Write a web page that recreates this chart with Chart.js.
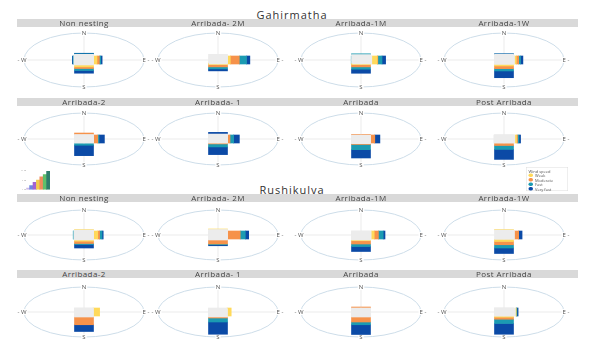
<!DOCTYPE html>
<html lang="en">
<head>
<meta charset="UTF-8" />
<title>Wind speed roses</title>
<script src="https://cdn.jsdelivr.net/npm/chart.js@4.4.1/dist/chart.umd.min.js"></script>
<style>
  body { margin: 0; background: #fff; font-family: "Open Sans", sans-serif; }
  #page { position: relative; width: 601px; height: 358px; overflow: hidden; background: #fff; }
  .group { position: absolute; left: 0; width: 584px; text-align: center; font-size: 11px; line-height: 12px; letter-spacing: 1px; color: #333; }
  .strip { position: absolute; left: 17px; width: 561px; height: 8px; background: #d9d9d9; }
  .ptitle { position: absolute; width: 140px; margin-left: -70px; text-align: center; font-size: 8px; line-height: 8px; letter-spacing: 0.4px; color: #444; }
  canvas { position: absolute; }
  #legend { position: absolute; left: 526px; top: 167px; width: 84px; height: 48px; border: 1px solid #ddd;
            transform: scale(0.5); transform-origin: 0 0; font-size: 8px; line-height: 9px; color: #555; padding: 2px 4px; box-sizing: border-box; }
  #legend .it { display: flex; align-items: center; }
  #legend .dot { width: 9px; height: 7px; border-radius: 4px; margin-right: 4px; }
</style>
</head>
<body>
<div id="page"></div>
<script>
// ---- data ----
const groups = ["Gahirmatha", "Rushikulya"];
const titles = ["Non nesting", "Arribada- 2M", "Arribada-1M", "Arribada-1W",
                "Arribada-2", "Arribada- 1", "Arribada", "Post Arribada",
                "Non nesting", "Arribada- 2M", "Arribada-1M", "Arribada-1W",
                "Arribada-2", "Arribada- 1", "Arribada", "Post Arribada"];
const directions = ["N", "E", "S", "W"];
const speedClasses = ["Calm", "Weak", "Moderate", "Fast", "Very fast"];

// share of each speed class per panel, as [N, E, S, W]
const calm = [[21,16,18.5,17],[21,16,10,15],[20,18,12,14],[21,17.5,16,16],
              [17,16,15,16],[19,16,15,16],[13,16,18,16],[17,18,15,17],
              [20,16,20,17],[22,16,20,16],[16,17,20,16],[20,17.5,17,15],
              [16,15,20,16],[13,15,20,16],[13,16,20,16],[17,19,16,16]];
const weak = [[0,5.6,7,0],[0,4.5,7,0],[0,9,5,0],[0,3,6,0],
              [0,0,0,0],[0,0,0,0],[0,0,0,0],[0,2.8,0,0],
              [2,7,5,0],[2,0,0,0],[0,5,3,0],[2,0,9,0],
              [0,11,0,0],[0,7,0,0],[0,0,0,0],[0,1.5,5,0]];
const moderate = [[0,4,6,0],[0,15,8.5,0],[0,1,8.5,0],[0,4,10,0],
                  [6,7,0,0],[0,4,4,0],[5,7,3,0],[0,1.7,10,0],
                  [0,3,9,0],[0,21,16,0],[0,7,13,0],[0,7,13,0],
                  [0,0,31,0],[0,0,4,0],[7,0,20,0],[0,0,8,0]];
const fast = [[2,2.3,7.4,1.2],[0,12,7.4,0],[3,7,8.6,2.3],[1,3,8.6,0],
              [0,2,9,0],[0,6,11.5,0],[0,0,20,0],[0,2.3,15,0],
              [0,4,4,1],[0,8.5,3,0],[0,8,10,0],[0,0,13,0],
              [0,0,0,0],[0,0,16,0],[0,0,11,0],[0,1,17,0]];
const veryFast = [[2,2.3,10,1.2],[0,5.6,7.4,0],[0,6,15,0],[1,4,25,0],
                  [0,9,40,0],[6.5,9.6,29.5,0],[0,8.5,32,0],[0,2.8,38.5,0],
                  [0,2,14,0],[0,5.6,4,0],[0,3,20,0],[0,5.6,22,0],
                  [0,0,27,0],[0,0,49,0],[0,0,39,0],[0,2,43,0]];

// small colour-scale inset
const insetValues = [1.5, 3.5, 6, 8, 10.5, 12.5, 15];

// ---- layout ----
const colors = ["#ececec", "#ffd95a", "#f6924a", "#1b9bb2", "#0b4aa6"];
const insetColors = ["#cbb8e8", "#6f88e0", "#a363d2", "#f2cc4c", "#f08a5d", "#5fbf6a", "#2e7d6b"];
const colCx = [84, 218, 361, 504];
const rowCy = [60, 139, 235, 312];
const rowHh = [27, 26, 25, 25];
const stripTop = [19, 98, 194, 270];
const groupTop = [9, 184];

const page = document.getElementById("page");

function addDiv(cls, text, css) {
  const d = document.createElement("div");
  d.className = cls;
  if (text) d.textContent = text;
  Object.assign(d.style, css);
  page.appendChild(d);
  return d;
}

groups.forEach((g, i) => addDiv("group", g, { top: groupTop[i] + "px" }));
stripTop.forEach((t) => addDiv("strip", "", { top: t + "px" }));

const roseFrame = {
  id: "roseFrame",
  beforeDatasetsDraw(chart) {
    const { ctx, scales: { x, y } } = chart;
    const cx = x.getPixelForValue(0), cy = y.getPixelForValue(0);
    const rx = x.getPixelForValue(100) - cx, ry = cy - y.getPixelForValue(100);
    ctx.save();
    ctx.lineWidth = 1;
    ctx.strokeStyle = "#ebebeb";
    ctx.beginPath();
    ctx.moveTo(cx - rx, cy); ctx.lineTo(cx + rx, cy);
    ctx.moveTo(cx, cy - ry); ctx.lineTo(cx, cy + ry);
    ctx.stroke();
    ctx.strokeStyle = "#cddde9";
    ctx.beginPath();
    ctx.ellipse(cx, cy, rx, ry, 0, 0, Math.PI * 2);
    ctx.stroke();
    ctx.font = "6px 'Open Sans'";
    ctx.textAlign = "center";
    ctx.textBaseline = "middle";
    const lab = [["N", cx, cy - ry], ["E -", cx + rx + 2, cy], ["S", cx, cy + ry], ["- W", cx - rx - 2, cy]];
    lab.forEach(([t, px, py]) => {
      const w = ctx.measureText(t).width;
      ctx.fillStyle = "#fff";
      ctx.fillRect(px - w / 2 - 1, py - 3, w + 2, 6);
      ctx.fillStyle = "#555";
      ctx.fillText(t, px, py);
    });
    ctx.restore();
  }
};

function makeRose(idx) {
  const row = Math.floor(idx / 4), col = idx % 4;
  const hh = rowHh[row];
  const canvas = document.createElement("canvas");
  canvas.width = 150;
  canvas.height = 2 * hh + 14;
  canvas.style.left = (colCx[col] - 75) + "px";
  canvas.style.top = (rowCy[row] - hh - 7) + "px";
  page.appendChild(canvas);
  addDiv("ptitle", titles[idx], { left: colCx[col] + "px", top: stripTop[row] + "px" });

  const classes = [calm, weak, moderate, fast, veryFast];
  const sums = [0, 0, 0, 0];
  const datasets = [];
  classes.forEach((cls, c) => {
    const v = cls[idx];
    const s = sums.slice();
    for (let d = 0; d < 4; d++) sums[d] += v[d];
    const vert = [], hor = [];
    if (v[0] > 0) vert.push({ x: 0, y: [s[0], sums[0]] });
    if (v[2] > 0) vert.push({ x: 0, y: [-s[2], -sums[2]] });
    if (v[1] > 0) hor.push({ y: 0, x: [s[1], sums[1]] });
    if (v[3] > 0) hor.push({ y: 0, x: [-s[3], -sums[3]] });
    datasets.push({ label: speedClasses[c], indexAxis: "x", data: vert, backgroundColor: colors[c],
                    barThickness: 19, grouped: false, borderWidth: 0 });
    datasets.push({ label: speedClasses[c], indexAxis: "y", data: hor, backgroundColor: colors[c],
                    barThickness: 8, grouped: false, borderWidth: 0 });
  });

  new Chart(canvas, {
    type: "bar",
    data: { datasets },
    options: {
      responsive: false,
      animation: false,
      layout: { padding: { left: 15, right: 15, top: 7, bottom: 7 } },
      scales: {
        x: { type: "linear", min: -100, max: 100, offset: false, display: false },
        y: { type: "linear", min: -100, max: 100, offset: false, display: false }
      },
      plugins: { legend: { display: false }, tooltip: { enabled: false } }
    },
    plugins: [roseFrame]
  });
}

for (let i = 0; i < titles.length; i++) makeRose(i);

// legend
const lg = addDiv("", "", {});
lg.id = "legend";
const lt = document.createElement("div");
lt.textContent = "Wind speed";
lg.appendChild(lt);
speedClasses.slice(1).forEach((name, i) => {
  const it = document.createElement("div");
  it.className = "it";
  it.innerHTML = '<span class="dot" style="background:' + colors[i + 1] + '"></span>' + name;
  lg.appendChild(it);
});

// inset colour-scale bars
const inset = document.createElement("canvas");
inset.width = 30; inset.height = 24;
inset.style.left = "20px"; inset.style.top = "168px";
page.appendChild(inset);
new Chart(inset, {
  type: "bar",
  data: {
    labels: insetValues.map((v, i) => String(i + 1)),
    datasets: [{ data: insetValues, backgroundColor: insetColors, categoryPercentage: 1, barPercentage: 1 }]
  },
  options: {
    responsive: false,
    animation: false,
    layout: { padding: 0 },
    scales: {
      x: { display: false },
      y: { min: 0, max: 16, ticks: { stepSize: 4, font: { size: 2 }, color: "#bbb", padding: 1 },
           grid: { drawOnChartArea: false, tickLength: 2, color: "#ccc" }, border: { display: false } }
    },
    plugins: { legend: { display: false }, tooltip: { enabled: false } }
  }
});
</script>
</body>
</html>
